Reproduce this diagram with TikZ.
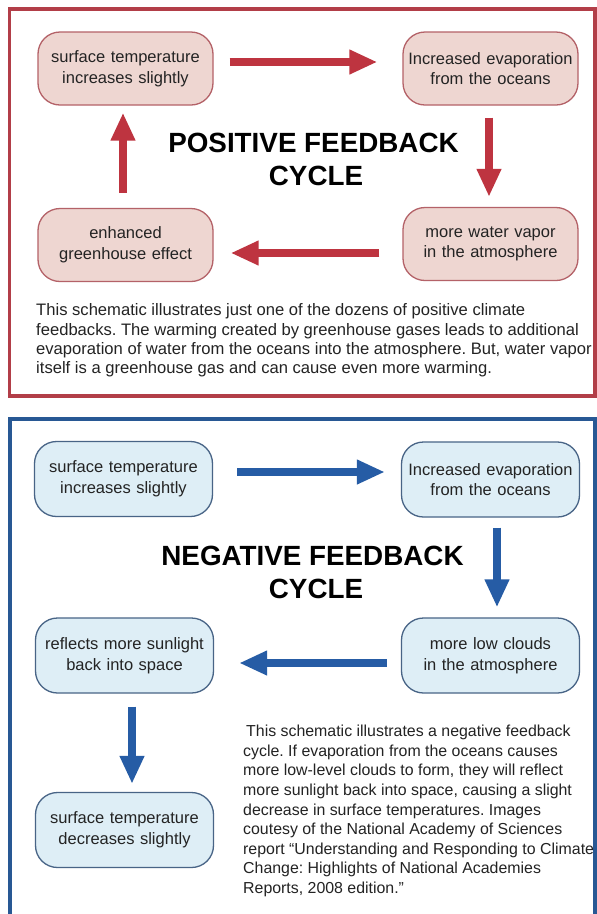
\documentclass[tikz,border=0pt]{standalone}
\usepackage{fontspec}
\setmainfont{Liberation Sans}
\usetikzlibrary{arrows.meta,calc}
\definecolor{redframe}{RGB}{178,62,72}
\definecolor{redarrow}{RGB}{190,52,64}
\definecolor{redfill}{RGB}{238,214,209}
\definecolor{redline}{RGB}{180,98,104}
\definecolor{blueframe}{RGB}{40,88,148}
\definecolor{bluearrow}{RGB}{38,92,165}
\definecolor{bluefill}{RGB}{222,238,246}
\definecolor{blueline}{RGB}{72,100,134}
\definecolor{textgray}{RGB}{35,35,35}
\frenchspacing
\begin{document}
\begin{tikzpicture}[x=1pt,y=-1pt,
  boxtext/.style={font=\fontsize{16.5}{20.7}\selectfont, align=center, text width=172pt, inner sep=0pt, text=textgray},
  rbox/.style={boxtext, draw=redline, fill=redfill, line width=1.3pt, rounded corners=22pt, minimum width=175pt, minimum height=73pt},
  bbox/.style={boxtext, draw=blueline, fill=bluefill, line width=1.3pt, rounded corners=22pt, minimum width=178pt, minimum height=75pt},
  rarr/.style={draw=redarrow, line width=7.5pt, -{Triangle[width=23pt,length=28pt]}},
  barr/.style={draw=bluearrow, line width=7.5pt, -{Triangle[width=23pt,length=28pt]}},
  titletext/.style={font=\fontsize{27.8}{33}\selectfont\bfseries, inner sep=0pt, text=black},
  paraA/.style={font=\fontsize{16.6}{19.4}\selectfont\frenchspacing, align=left, inner sep=0pt, text=textgray},
  paraB/.style={font=\fontsize{15.9}{19.6}\selectfont\frenchspacing, align=left, inner sep=0pt, text=textgray}]
\fill[white] (0,0) rectangle (597,914);
\useasboundingbox (0,0) rectangle (597,914);

% ---------- positive ----------
\draw[redframe, line width=3.5pt] (9.5,9) rectangle (595,396);

\node[rbox] (r1) at (125.5,68.5) {surface temperature\\increases slightly};
\node[rbox] (r2) at (490.5,68.5) {Increased evaporation\\from the oceans};
\node[rbox] (r3) at (490.5,244) {more water vapor\\in the atmosphere};
\node[rbox] (r4) at (125.5,245) {enhanced\\greenhouse effect};

\draw[rarr, shorten <=16pt, shorten >=25pt] (r1.east |- 0,62) -- (r2.west |- 0,62);
\draw[rarr, shorten <=12pt, shorten >=10pt] (489,0 |- r2.south) -- (489,0 |- r3.north);
\draw[rarr, shorten <=23pt, shorten >=17pt] (r3.west |- 0,253) -- (r4.east |- 0,253);
\draw[rarr, shorten <=15pt, shorten >=7pt] (123,0 |- r4.north) -- (123,0 |- r1.south);

\node[titletext, anchor=base] (t1) at (313.5,152) {POSITIVE FEEDBACK};
\node[titletext, anchor=base] (t2) at (316,185) {CYCLE};

\node[paraA, anchor=base west] (p1) at (36,373.9) {This schematic illustrates just one of the dozens of positive climate\\feedbacks. The warming created by greenhouse gases leads to additional\\evaporation of water from the oceans into the atmosphere. But, water vapor\\itself is a greenhouse gas and can cause even more warming.};

% ---------- negative ----------
\draw[blueframe, line width=4pt] (10,914) -- (10,418.5) -- (595,418.5) -- (595,914);

\node[bbox] (b1) at (123.5,479) {surface temperature\\increases slightly};
\node[bbox] (b2) at (490.5,479.5) {Increased evaporation\\from the oceans};
\node[bbox] (b3) at (490.5,655.5) {more low clouds\\in the atmosphere};
\node[bbox] (b4) at (124.5,655.5) {reflects more sunlight\\back into space};
\node[bbox] (b5) at (124.5,830) {surface temperature\\decreases slightly};

\draw[barr, shorten <=24pt, shorten >=16pt] (b1.east |- 0,472) -- (b2.west |- 0,472);
\draw[barr, shorten <=10pt, shorten >=10pt] (497,0 |- b2.south) -- (497,0 |- b3.north);
\draw[barr, shorten <=14pt, shorten >=25pt] (b3.west |- 0,663) -- (b4.east |- 0,663);
\draw[barr, shorten <=13pt, shorten >=8pt] (132,0 |- b4.south) -- (132,0 |- b5.north);

\node[titletext, anchor=base] (t3) at (312.5,565) {NEGATIVE FEEDBACK};
\node[titletext, anchor=base] (t4) at (316,598) {CYCLE};

\node[paraB, anchor=base west] (p2) at (243,893.5) {\hspace{3pt}This schematic illustrates a negative feedback\\cycle. If evaporation from the oceans causes\\more low-level clouds to form, they will reflect\\more sunlight back into space, causing a slight\\decrease in surface temperatures. Images\\coutesy of the National Academy of Sciences\\report “Understanding and Responding to Climate\\Change: Highlights of National Academies\\Reports, 2008 edition.”};
\end{tikzpicture}
\end{document}
